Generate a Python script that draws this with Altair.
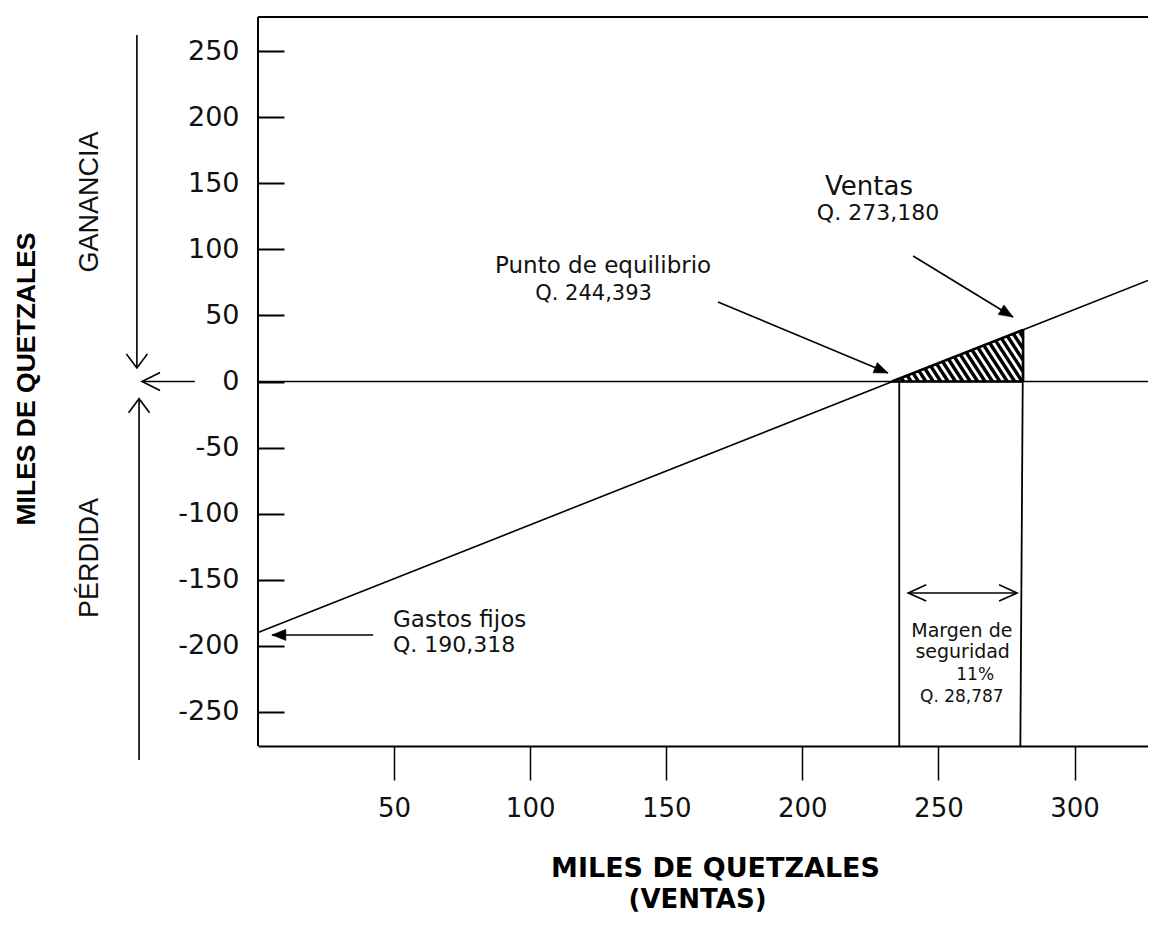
import math
import altair as alt
import pandas as pd

# ---------------- data ----------------
x_domain = [0, 327]
y_domain = [-276, 276]
x_ticks = [50, 100, 150, 200, 250, 300]
y_ticks = [250, 200, 150, 100, 50, 0, -50, -100, -150, -200, -250]

# result line (ventas -> ganancia / pérdida)
line_x = [0, 327]
line_y = [-190, 76.5]

breakeven_cross_x = 232.9      # line crosses 0
breakeven_drop_x = 235.6       # vertical below the break-even point
sales_x_top = 281.1
sales_x_bottom = 280.1
sales_y = 39.1

# arrows: start -> tip
arrow_name = ["gastos", "equilibrio", "ventas", "margen", "ganancia", "cero", "perdida"]
arrow_x1 = [42.3, 169.0, 240.7, 238.9, -44.5, -23.2, -43.7]
arrow_y1 = [-191.9, 60.2, 95.0, -160.1, 262.4, 0.0, -286.6]
arrow_x2 = [5.1, 231.5, 277.4, 278.9, -44.5, -42.6, -43.7]
arrow_y2 = [-191.9, 6.4, 48.8, -160.1, 10.2, 0.0, -13.0]
arrow_head = ["filled", "filled", "filled", "open2", "openw", "open", "openw"]

# annotation texts (center aligned)
note_text = ["Punto de equilibrio", "Q. 244,393", "Ventas", "Q. 273,180",
             "Margen de", "seguridad", "11%", "Q. 28,787"]
note_x = [126.8, 123.3, 224.5, 227.8, 258.6, 258.9, 263.5, 258.6]
note_y = [82.2, 61.7, 141.2, 122.3, -193.5, -209.4, -226.0, -242.7]
note_size = [23, 21, 26, 22, 19, 19, 17, 17]

# left-aligned annotation
gastos_text = ["Gastos fijos", "Q. 190,318"]
gastos_x = [49.6, 49.6]
gastos_y = [-185.9, -204.8]
gastos_size = [23, 22]

# vertical side labels
side_text = ["GANANCIA", "PÉRDIDA"]
side_x = [-61.7, -61.7]
side_y = [135.9, -133.6]

ytitle_text = ["MILES DE QUETZALES"]
ytitle_x = [-84.9]
ytitle_y = [1.9]

xtitle_text = ["MILES DE QUETZALES", "(VENTAS)"]
xtitle_x = [168.1, 161.5]
xtitle_y = [-375.2, -398.6]
xtitle_size = [27, 26]

# ---------------- geometry helpers ----------------
W, H = 890, 729
KX = W / (x_domain[1] - x_domain[0])
KY = H / (y_domain[1] - y_domain[0])

xs = alt.Scale(domain=x_domain, nice=False, zero=False)
ys = alt.Scale(domain=y_domain, nice=False, zero=False)

INK = "#111111"

x_axis = alt.Axis(values=x_ticks, title=None, grid=False, domain=True, domainColor="black",
                  domainWidth=2, ticks=True, tickSize=34, tickWidth=1.5, tickColor="black",
                  labelPadding=15, labelFont="DejaVu Sans", labelFontSize=26, labelColor=INK,
                  labelFlush=False, labelOverlap=False)
y_axis = alt.Axis(values=y_ticks, title=None, grid=False, domain=False, offset=-26,
                  ticks=True, tickSize=26, tickWidth=2, tickColor="black", labelPadding=19,
                  labelFont="DejaVu Sans", labelFontSize=27, labelColor=INK,
                  labelExpr="'' + datum.value", labelOverlap=False)


def X(f="x"):
    return alt.X(f, type="quantitative", scale=xs, axis=x_axis)


def Y(f="y"):
    return alt.Y(f, type="quantitative", scale=ys, axis=y_axis)


# hatch stripes clipped to the safety-margin triangle
tri = [(breakeven_cross_x, 0.0), (sales_x_top, 0.0), (sales_x_top, sales_y)]
P = [(a * KX, b * KY) for a, b in tri]
theta = math.radians(57)
dvec = (math.cos(theta), -math.sin(theta))
nvec = (math.sin(theta), math.cos(theta))
cs = [nvec[0] * p[0] + nvec[1] * p[1] for p in P]
step = 7.4 * math.sin(theta)
stripes = []
c = min(cs) + step * 0.6
while c < max(cs):
    pts = []
    for i in range(3):
        a, b = P[i], P[(i + 1) % 3]
        fa = nvec[0] * a[0] + nvec[1] * a[1] - c
        fb = nvec[0] * b[0] + nvec[1] * b[1] - c
        if fa == fb:
            continue
        t = fa / (fa - fb)
        if 0 <= t <= 1:
            pts.append((a[0] + t * (b[0] - a[0]), a[1] + t * (b[1] - a[1])))
    if len(pts) >= 2:
        pts.sort(key=lambda p: p[0] * dvec[0] + p[1] * dvec[1])
        p1, p2 = pts[0], pts[-1]
        stripes.append({"x": p1[0] / KX, "y": p1[1] / KY, "x2": p2[0] / KX, "y2": p2[1] / KY})
    c += step
stripe_df = pd.DataFrame(stripes)

# ---------------- layers ----------------
line_df = pd.DataFrame({"x": line_x, "y": line_y})
main_line = alt.Chart(line_df).mark_line(color="black", strokeWidth=1.6).encode(x=X(), y=Y())

frame_df = pd.DataFrame({"x": [x_domain[0], x_domain[0]], "y": [y_domain[0], y_domain[1]],
                         "x2": [x_domain[0], x_domain[1]], "y2": [y_domain[1], y_domain[1]]})
frame = alt.Chart(frame_df).mark_rule(color="black", strokeWidth=2).encode(
    x=X(), y=Y(), x2="x2", y2="y2")

zero_df = pd.DataFrame({"x": [x_domain[0]], "x2": [x_domain[1]], "y": [0]})
zero_line = alt.Chart(zero_df).mark_rule(color="black", strokeWidth=1.6).encode(
    x=X(), x2="x2", y=Y())

vert_df = pd.DataFrame({"x": [breakeven_drop_x, sales_x_top], "y": [0, sales_y],
                        "x2": [breakeven_drop_x, sales_x_bottom], "y2": [y_domain[0], y_domain[0]]})
verticals = alt.Chart(vert_df).mark_rule(color="black", strokeWidth=1.8).encode(
    x=X(), y=Y(), x2="x2", y2="y2")

hatch = alt.Chart(stripe_df).mark_rule(color="black", strokeWidth=3.4, strokeCap="butt").encode(
    x=X(), y=Y(), x2="x2", y2="y2")

tri_df = pd.DataFrame({"x": [breakeven_cross_x, sales_x_top, breakeven_cross_x],
                       "y": [0, sales_y, 0],
                       "x2": [sales_x_top, sales_x_top, sales_x_top],
                       "y2": [sales_y, 0, 0]})
tri_edges = alt.Chart(tri_df).mark_rule(color="black", strokeWidth=2.6).encode(
    x=X(), y=Y(), x2="x2", y2="y2")

# arrows
arrow_df = pd.DataFrame({"name": arrow_name, "x": arrow_x1, "y": arrow_y1,
                         "x2": arrow_x2, "y2": arrow_y2, "head": arrow_head})
shafts = alt.Chart(arrow_df).mark_rule(color="black", strokeWidth=1.6).encode(
    x=X(), y=Y(), x2="x2", y2="y2")

heads = []
for n, a, b, c2, d, kind in zip(arrow_name, arrow_x1, arrow_y1, arrow_x2, arrow_y2, arrow_head):
    ang = math.degrees(math.atan2(-(d - b) * KY, (c2 - a) * KX)) % 360
    heads.append({"x": c2, "y": d, "angle": ang, "kind": kind})
    if kind == "open2":
        heads.append({"x": a, "y": b, "angle": (ang + 180) % 360, "kind": kind})
head_df = pd.DataFrame(heads)

filled_heads = alt.Chart(head_df[head_df.kind == "filled"]).mark_point(
    shape="M 0 0 L -2 -0.8 L -2 0.8 Z", filled=True, fill="black", stroke="black",
    strokeWidth=0.5, size=196, opacity=1).encode(
    x=X(), y=Y(), angle=alt.Angle("angle:Q", scale=None))

open_heads = alt.Chart(head_df[head_df.kind == "open2"]).mark_point(
    shape="M -2 -0.9 L 0 0 L -2 0.9", filled=False, stroke="black", strokeWidth=1.6,
    size=324, opacity=1).encode(
    x=X(), y=Y(), angle=alt.Angle("angle:Q", scale=None))

open_heads_l = alt.Chart(head_df[head_df.kind == "open"]).mark_point(
    shape="M -2 -1 L 0 0 L -2 1", filled=False, stroke="black", strokeWidth=1.6,
    size=324, opacity=1).encode(
    x=X(), y=Y(), angle=alt.Angle("angle:Q", scale=None))

open_heads_w = alt.Chart(head_df[head_df.kind == "openw"]).mark_point(
    shape="M -2 -1.5 L 0 0 L -2 1.5", filled=False, stroke="black", strokeWidth=1.6,
    size=196, opacity=1).encode(
    x=X(), y=Y(), angle=alt.Angle("angle:Q", scale=None))

# texts
note_df = pd.DataFrame({"t": note_text, "x": note_x, "y": note_y, "s": note_size})
notes = alt.Chart(note_df).mark_text(font="DejaVu Sans", align="center", baseline="alphabetic",
                                     color=INK).encode(
    x=X(), y=Y(), text="t:N", size=alt.Size("s:Q", scale=None))

gastos_df = pd.DataFrame({"t": gastos_text, "x": gastos_x, "y": gastos_y, "s": gastos_size})
gastos = alt.Chart(gastos_df).mark_text(font="DejaVu Sans", align="left", baseline="alphabetic",
                                        color=INK).encode(
    x=X(), y=Y(), text="t:N", size=alt.Size("s:Q", scale=None))

side_df = pd.DataFrame({"t": side_text, "x": side_x, "y": side_y})
side = alt.Chart(side_df).mark_text(font="Liberation Sans", fontSize=27, angle=270,
                                    align="center", baseline="middle", color=INK).encode(
    x=X(), y=Y(), text="t:N")

ytitle_df = pd.DataFrame({"t": ytitle_text, "x": ytitle_x, "y": ytitle_y})
ytitle = alt.Chart(ytitle_df).mark_text(font="Liberation Sans", fontSize=26.5, fontWeight="bold",
                                        angle=270, align="center", baseline="middle",
                                        color="black").encode(
    x=X(), y=Y(), text="t:N")

xtitle_df = pd.DataFrame({"t": xtitle_text, "x": xtitle_x, "y": xtitle_y, "s": xtitle_size})
xtitle = alt.Chart(xtitle_df).mark_text(font="DejaVu Sans", fontWeight="bold",
                                        align="center", baseline="alphabetic",
                                        color="black").encode(
    x=X(), y=Y(), text="t:N", size=alt.Size("s:Q", scale=None))

chart = alt.layer(
    main_line, frame, zero_line, hatch, tri_edges, verticals, shafts,
    filled_heads, open_heads, open_heads_l, open_heads_w,
    notes, gastos, side, ytitle, xtitle,
).properties(
    width=W, height=H,
    autosize=alt.AutoSizeParams(type="none"),
    padding={"left": 250, "top": 9, "right": 0, "bottom": 168},
    background="white",
).configure_view(stroke=None)

chart.save("out.html", embed_options={"renderer": "svg", "actions": False})
